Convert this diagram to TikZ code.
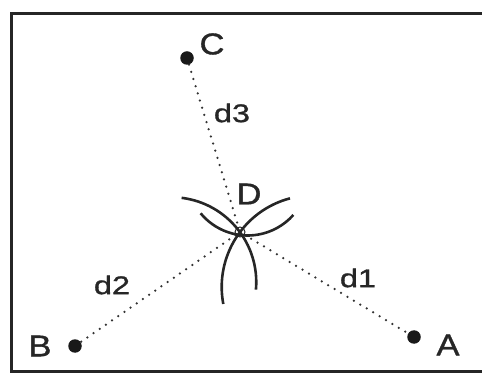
\documentclass[tikz,border=0pt]{standalone}
\usepackage{fontspec}
\setmainfont{Liberation Sans}
\newfontfamily\capfont[FakeStretch=1.15,FakeBold=1.2]{Liberation Sans}
\newfontfamily\dfont[FakeStretch=1.27,FakeBold=1.2]{Liberation Sans}
\usetikzlibrary{calc}

\begin{document}
\begin{tikzpicture}[x=1pt,y=1pt]
	\tikzset{station/.style = {circle,fill=black!90,inner sep=0pt,minimum size=13.5pt}}
	\tikzset{target/.style = {circle,draw=black!85,line width=1pt,inner sep=0pt,minimum size=10pt}}
	\tikzset{lbl/.style = {inner sep=0pt,text=black!85,font=\capfont\fontsize{30}{33}\selectfont}}
	\tikzset{dlbl/.style = {inner sep=0pt,text=black!85,font=\dfont\fontsize{25.5}{28}\selectfont}}
	\tikzset{distline/.style = {draw=black!80,line width=2.5pt,line cap=round,dash pattern=on 0pt off 7.5pt}}
	\tikzset{arcline/.style = {draw=black!85,line width=2.6pt}}
	\useasboundingbox (0,0) rectangle (482,375);

	% frame
	\draw[black!85,line width=2.6pt] (482,361.5) -- (11.5,361.5) -- (11.5,3.5) -- (482,3.5);

	% vertices
	\node[station] (A) at (414,38) {};
	\node[station] (B) at (75,29) {};
	\node[station] (C) at (187,317) {};
	\node[target] (D) at (240,143) {};

	% labels
	\node[lbl] (Alab) at (448,30) {A};
	\node[lbl] (Blab) at (40,29) {B};
	\node[lbl] (Clab) at (212,331) {C};
	\node[lbl] (Dlab) at (249,181) {D};
	\node[dlbl] (d1) at (358,97) {d1};
	\node[dlbl] (d2) at (112,90) {d2};
	\node[dlbl] (d3) at (232,262) {d3};

	% edges
	\draw[distline] (C) -- (D);
	\draw[distline] (D) -- (B);
	\draw[distline] (D) -- (A);

	% arcs
	\coordinate (ctrB) at (171.25,92.8);
	\coordinate (ctrA) at (313.4,88);
	\coordinate (ctrC) at (247.7,200.5);
	\draw[arcline] (ctrB) ++(83:85) arc[start angle=83,end angle=-5,radius=85];
	\draw[arcline] (ctrA) ++(104.8:91.7) arc[start angle=104.8,end angle=190.7,radius=91.7];
	\draw[arcline] (ctrC) ++(219.5:61) arc[start angle=219.5,end angle=318.4,radius=61];
\end{tikzpicture}
\end{document}
